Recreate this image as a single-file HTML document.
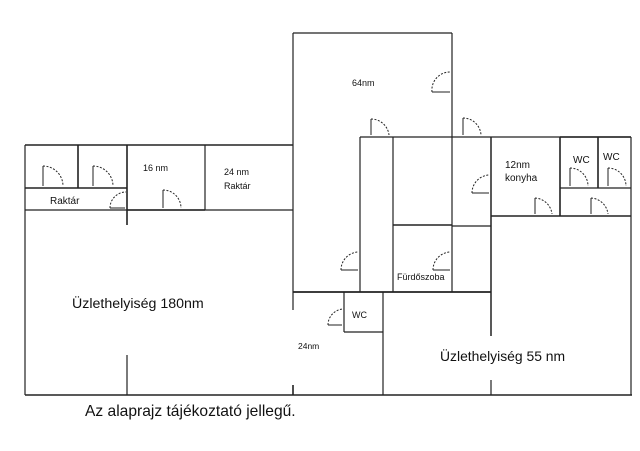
<!DOCTYPE html>
<html><head><meta charset="utf-8"><style>
html,body{margin:0;padding:0;background:#fff;}
svg{display:block}
text{font-family:"Liberation Sans",sans-serif;fill:#111}
</style></head><body>
<svg width="640" height="451" viewBox="0 0 640 451" xmlns="http://www.w3.org/2000/svg">
<g stroke="#222" stroke-width="1.2" fill="none">
<line x1="25" y1="145" x2="293" y2="145" stroke-width="1.6"/>
<line x1="25" y1="145" x2="25" y2="395"/>
<line x1="25" y1="395" x2="632" y2="395" stroke-width="1.6"/>
<line x1="25" y1="210" x2="293" y2="210"/>
<line x1="25" y1="188" x2="127" y2="188" stroke-width="1.6"/>
<line x1="78" y1="145" x2="78" y2="188" stroke-width="1.6"/>
<line x1="127" y1="145" x2="127" y2="225" stroke-width="1.6"/>
<line x1="127" y1="355" x2="127" y2="395"/>
<line x1="205" y1="145" x2="205" y2="210"/>
<line x1="127" y1="210" x2="205" y2="210" stroke-width="1.6"/>
<line x1="293" y1="33" x2="293" y2="310"/>
<line x1="293" y1="385" x2="293" y2="395" stroke-width="1.6"/>
<line x1="293" y1="33" x2="452" y2="33"/>
<line x1="452" y1="33" x2="452" y2="292"/>
<line x1="360" y1="137" x2="491" y2="137"/>
<line x1="360" y1="137" x2="360" y2="292"/>
<line x1="393" y1="137" x2="393" y2="292"/>
<line x1="393" y1="225" x2="452" y2="225" stroke-width="1.6"/>
<line x1="452" y1="226" x2="491" y2="226"/>
<line x1="491" y1="137" x2="491" y2="336" stroke-width="1.5"/>
<line x1="491" y1="380" x2="491" y2="395"/>
<line x1="293" y1="292" x2="491" y2="292" stroke-width="1.8"/>
<line x1="344" y1="292" x2="344" y2="332"/>
<line x1="344" y1="332" x2="383" y2="332"/>
<line x1="383" y1="292" x2="383" y2="395"/>
<line x1="491" y1="137" x2="631" y2="137"/>
<line x1="631" y1="137" x2="631" y2="395"/>
<line x1="560" y1="137" x2="560" y2="216" stroke-width="1.6"/>
<line x1="598" y1="137" x2="598" y2="188" stroke-width="1.6"/>
<line x1="560" y1="137" x2="631" y2="137" stroke-width="1.6"/>
<line x1="560" y1="188" x2="631" y2="188"/>
<line x1="491" y1="216" x2="631" y2="216" stroke-width="1.5"/>
</g>
<g stroke="#222" stroke-width="1" fill="none">
<path d="M43 186 V166"/><path d="M43 166 A20 20 0 0 1 63 186" stroke-dasharray="2,1.5"/>
<path d="M93 186 V166"/><path d="M93 166 A20 20 0 0 1 113 186" stroke-dasharray="2,1.5"/>
<path d="M163 208 V190"/><path d="M163 190 A18 18 0 0 1 181 208" stroke-dasharray="2,1.5"/>
<path d="M371 135 V119"/><path d="M371 119 A18 18 0 0 1 389 135" stroke-dasharray="2,1.5"/>
<path d="M463 135 V118"/><path d="M463 118 A18 18 0 0 1 481 135" stroke-dasharray="2,1.5"/>
<path d="M535 214 V198"/><path d="M535 198 A18 18 0 0 1 552 214" stroke-dasharray="2,1.5"/>
<path d="M591 214 V198"/><path d="M591 198 A18 18 0 0 1 608 214" stroke-dasharray="2,1.5"/>
<path d="M570 186 V168"/><path d="M570 168 A18 18 0 0 1 588 186" stroke-dasharray="2,1.5"/>
<path d="M608 186 V168"/><path d="M608 168 A18 18 0 0 1 626 186" stroke-dasharray="2,1.5"/>
<path d="M450 92 H432"/><path d="M432 92 A18 18 0 0 1 450 72" stroke-dasharray="2,1.5"/>
<path d="M489 193 H472"/><path d="M472 193 A18 18 0 0 1 489 175" stroke-dasharray="2,1.5"/>
<path d="M358 270 H341"/><path d="M341 270 A18 18 0 0 1 358 252" stroke-dasharray="2,1.5"/>
<path d="M450 270 H433"/><path d="M433 270 A18 18 0 0 1 450 252" stroke-dasharray="2,1.5"/>
<path d="M342 325 H328"/><path d="M328 325 A16 16 0 0 1 344 309" stroke-dasharray="2,1.5"/>
<path d="M125 208 H110"/><path d="M110 208 A16 16 0 0 1 126 192" stroke-dasharray="2,1.5"/>
</g>
<g font-size="9">
<text x="352" y="86">64nm</text>
<text x="143" y="171">16 nm</text>
<text x="224" y="175">24 nm</text>
<text x="224" y="189">Raktár</text>
<text x="50" y="204" font-size="10">Raktár</text>
<text x="505" y="168" font-size="10">12nm</text>
<text x="505" y="181" font-size="10">konyha</text>
<text x="573" y="163" font-size="10">WC</text>
<text x="603" y="160" font-size="10">WC</text>
<text x="397" y="280">Fürdőszoba</text>
<text x="352" y="318">WC</text>
<text x="298" y="349" font-size="8.5">24nm</text>
</g>
<text x="72" y="308" font-size="14.2">Üzlethelyiség 180nm</text>
<text x="440" y="361" font-size="13.9">Üzlethelyiség 55 nm</text>
<text x="85" y="416" font-size="15.6">Az alaprajz tájékoztató jellegű.</text>
</svg>
</body></html>
